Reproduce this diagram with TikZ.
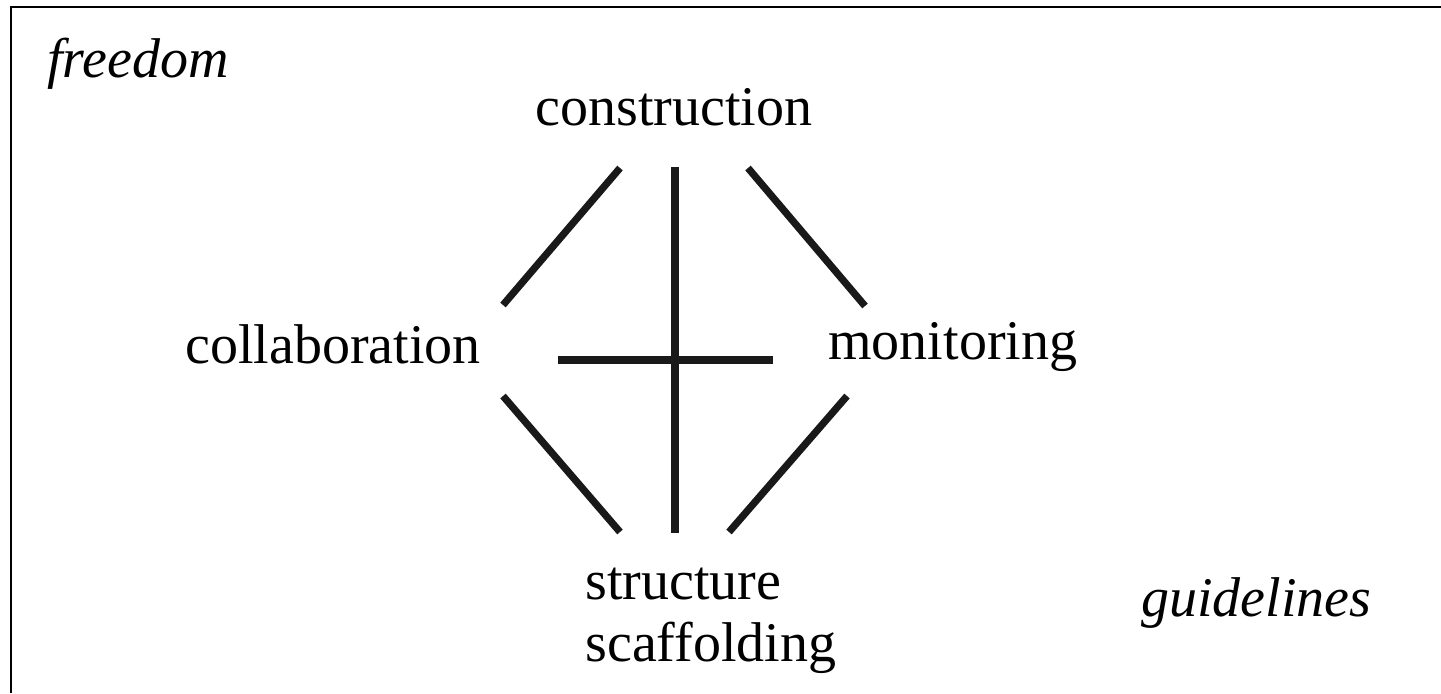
\documentclass[tikz,border=0pt]{standalone}
\usepackage{fontspec}
\setmainfont{Liberation Serif}
\usepackage{tikz}

\begin{document}
\begin{tikzpicture}
[x=0.5pt,y=-0.5pt
,lbl/.style={inner sep=0pt,anchor=base west,font=\fontsize{28}{31}\selectfont}
,pole/.style={lbl,font=\fontsize{28}{31}\selectfont\itshape}
,ln/.style={draw=black!90,line width=3.6pt}
,frame/.style={draw,line width=1.4pt}]
\useasboundingbox (0,0) rectangle (1441,693);
\draw[frame] (11,693) -- (11,7) -- (1441,7);
\node[pole] (fre) at (47,77) {freedom};
\node[pole] (gui) at (1141,616) {guidelines};
\node[lbl] (con) at (535,125) {construction};
\node[lbl] (col) at (185,363) {collaboration};
\node[lbl] (mon) at (828,359) {monitoring};
% two lines: base is the last line
\node[lbl,align=left] (str) at (585,661) {structure\\scaffolding};
\coordinate (cl1) at (620,168);
\coordinate (cl2) at (503,305);
\coordinate (cr1) at (748,168);
\coordinate (cr2) at (865,306);
\coordinate (v1) at (675,167);
\coordinate (v2) at (675,533);
\coordinate (h1) at (558,360);
\coordinate (h2) at (773,360);
\coordinate (sl1) at (503,396);
\coordinate (sl2) at (620,532);
\coordinate (sr1) at (847,396);
\coordinate (sr2) at (729,532);
\draw[ln] (cl1) -- (cl2);
\draw[ln] (cr1) -- (cr2);
\draw[ln] (v1) -- (v2);
\draw[ln] (h1) -- (h2);
\draw[ln] (sl1) -- (sl2);
\draw[ln] (sr1) -- (sr2);
\end{tikzpicture}
\end{document}
